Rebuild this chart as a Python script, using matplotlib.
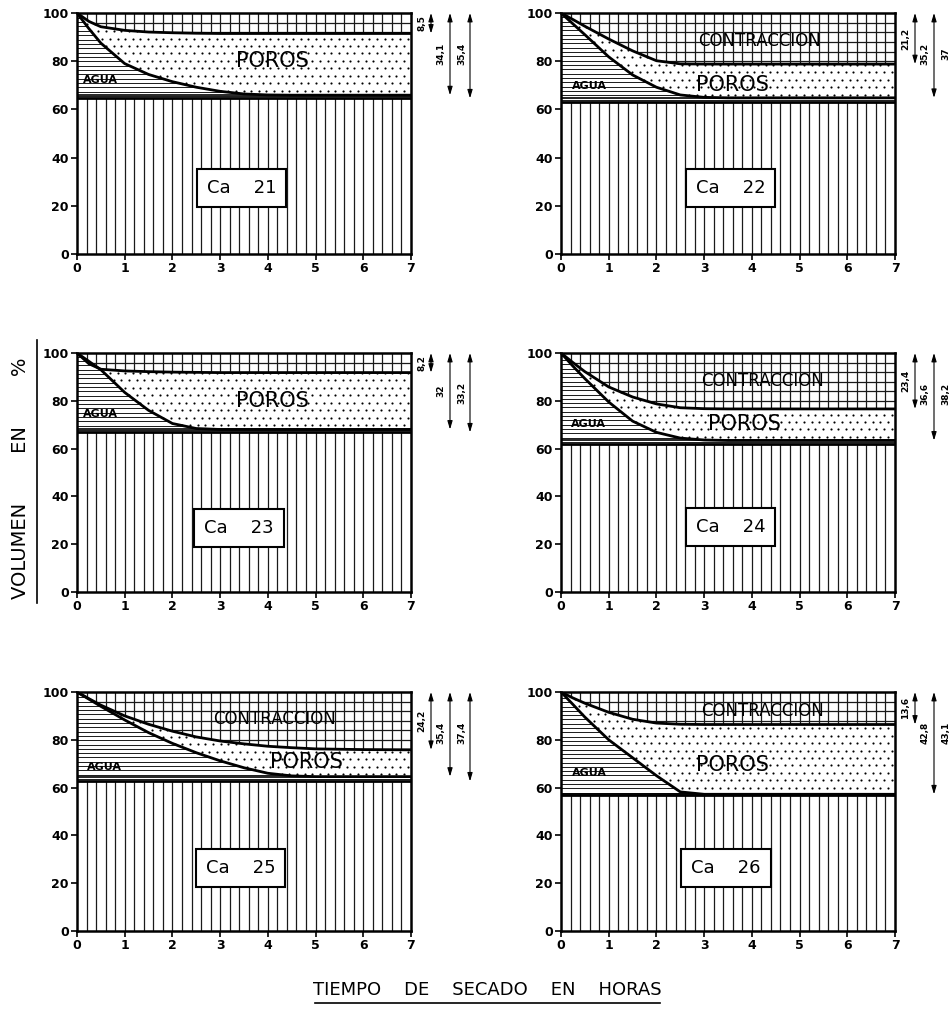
"""
Secado de piezas Ca 21 - Ca 26: volumen de agua, poros y contraccion
"""

import matplotlib
matplotlib.use('Agg')
import matplotlib.pyplot as plt
import numpy as np
from matplotlib.lines import Line2D
import matplotlib.transforms as mtransforms

plt.rcParams['font.family'] = ['DejaVu Sans']

# tiempo de secado (horas)
TIME = [0, 0.25, 0.5, 1, 1.5, 2, 2.5, 3, 3.5, 4, 4.5, 5, 6, 7]

SAMPLES = ['21', '22', '23', '24', '25', '26']

# curva superior (volumen total de la pieza, %)
upper_21 = [100, 96.5, 94.3, 92.8, 92.1, 91.8, 91.6, 91.5, 91.5, 91.5, 91.5, 91.5, 91.5, 91.5]
upper_22 = [100, 97.3, 94.5, 89.2, 84.3, 80.2, 78.9, 78.8, 78.8, 78.8, 78.8, 78.8, 78.8, 78.8]
upper_23 = [100, 95.5, 93.2, 92.5, 92.2, 92.0, 91.9, 91.8, 91.8, 91.8, 91.8, 91.8, 91.8, 91.8]
upper_24 = [100, 96.0, 92.2, 85.8, 81.6, 78.7, 77.1, 76.7, 76.6, 76.6, 76.6, 76.6, 76.6, 76.6]
upper_25 = [100, 97.2, 94.5, 90.0, 86.5, 83.6, 81.2, 79.5, 78.3, 77.3, 76.7, 76.2, 75.9, 75.8]
upper_26 = [100, 97.5, 95.3, 91.5, 88.6, 87.0, 86.5, 86.4, 86.4, 86.4, 86.4, 86.4, 86.4, 86.4]

# curva inferior (solido + agua, %)
lower_21 = [100, 93.5, 87.5, 79.0, 74.5, 71.5, 69.2, 67.5, 66.4, 66.0, 65.9, 65.9, 65.9, 65.9]
lower_22 = [100, 95.5, 91.0, 81.8, 74.3, 69.2, 66.0, 65.0, 64.8, 64.8, 64.8, 64.8, 64.8, 64.8]
lower_23 = [100, 96.5, 93.0, 83.5, 76.0, 70.5, 68.4, 68.0, 68.0, 68.0, 68.0, 68.0, 68.0, 68.0]
lower_24 = [100, 94.5, 89.3, 79.5, 71.5, 66.8, 64.4, 63.6, 63.4, 63.4, 63.4, 63.4, 63.4, 63.4]
lower_25 = [100, 97.0, 94.0, 88.3, 83.0, 78.5, 74.6, 71.2, 68.3, 66.0, 64.9, 64.6, 64.6, 64.6]
lower_26 = [100, 94.8, 89.5, 80.0, 72.5, 65.0, 58.2, 57.2, 57.2, 57.2, 57.2, 57.2, 57.2, 57.2]

# volumen de solido (%)
solid = [64.6, 63.0, 66.8, 61.8, 62.6, 56.9]

# cotas a la derecha de cada grafico (contraccion, contr.+poros, total)
dims = [
    ['8,5', '34,1', '35,4'],
    ['21,2', '35,2', '37'],
    ['8,2', '32', '33,2'],
    ['23,4', '36,6', '38,2'],
    ['24,2', '35,4', '37,4'],
    ['13,6', '42,8', '43,1'],
]

uppers = [upper_21, upper_22, upper_23, upper_24, upper_25, upper_26]
lowers = [lower_21, lower_22, lower_23, lower_24, lower_25, lower_26]

# posiciones de los textos (x, y) en unidades de datos
poros_pos = [(4.1, 80), (3.6, 70), (4.1, 80), (3.85, 70.3), (4.8, 70.7), (3.6, 69.5)]
agua_pos = [(0.5, 72), (0.6, 69.7), (0.5, 74.5), (0.57, 70.3), (0.58, 68.6), (0.6, 66)]
contr_pos = [None, (4.17, 88.4), None, (4.23, 88.3), (4.13, 88.7), (4.23, 92)]
box_pos = [(3.45, 27.4), (3.55, 27.4), (3.4, 26.8), (3.55, 27.2), (3.43, 26.4), (3.46, 26.4)]

FIG_W, FIG_H = 949, 1031
LEFT_X = [77, 561]
ROWS = [(13, 254), (353, 592), (692, 931)]
PANEL_W = 334


def clipped_region(ax, x, y1, y2):
    poly = ax.fill_between(x, y1, y2, facecolor='white', edgecolor='none', zorder=1)
    return poly.get_paths()[0]


def draw_panel(ax, idx):
    t = np.array(TIME, dtype=float)
    up = np.array(uppers[idx])
    lo = np.array(lowers[idx])
    s = solid[idx]
    pore_bottom = lo[-1]
    full = np.full_like(t, 100.0)
    zero = np.zeros_like(t)
    sol = np.full_like(t, s)

    vx = np.arange(0.2, 7.0, 0.2)

    # solido: lineas verticales
    p = clipped_region(ax, t, zero, sol)
    lc = ax.vlines(vx, 0, 100, colors='#1a1a1a', linewidth=0.9, zorder=2)
    lc.set_clip_path(p, ax.transData)

    # agua: lineas horizontales
    p = clipped_region(ax, t, sol, lo)
    lc = ax.hlines(np.arange(s + 1.0, 100, 1.8), 0, 7, colors='#1a1a1a', linewidth=0.7, zorder=2)
    lc.set_clip_path(p, ax.transData)

    # poros: puntos
    p = clipped_region(ax, t, lo, up)
    rows = np.arange(s, 100, 3.1)
    px, py = [], []
    for k, yy in enumerate(rows):
        xs = np.arange(0.05 + (0.08 if k % 2 else 0), 7, 0.16)
        px.extend(xs)
        py.extend([yy] * len(xs))
    sc = ax.scatter(px, py, s=2.4, color='black', linewidths=0, zorder=2)
    sc.set_clip_path(p, ax.transData)

    # contraccion: cuadricula
    p = clipped_region(ax, t, up, full)
    lc = ax.vlines(vx, 0, 100, colors='#1a1a1a', linewidth=0.9, zorder=2)
    lc.set_clip_path(p, ax.transData)
    lc = ax.hlines(np.arange(96, 50, -4), 0, 7, colors='#1a1a1a', linewidth=0.9, zorder=2)
    lc.set_clip_path(p, ax.transData)

    # curvas y limites
    ax.plot(t, up, color='black', linewidth=2, zorder=4)
    ax.plot(t, lo, color='black', linewidth=2, zorder=4)
    ax.axhline(s, color='black', linewidth=2, zorder=4)
    ax.axhline(pore_bottom, color='black', linewidth=1.2, zorder=4)

    # textos
    ax.text(*poros_pos[idx], 'POROS', fontsize=15, ha='center', va='center', zorder=5)
    ax.text(*agua_pos[idx], 'AGUA', fontsize=8, fontweight='bold', ha='center', va='center', zorder=5)
    if contr_pos[idx] is not None:
        ax.text(*contr_pos[idx], 'CONTRACCION', fontsize=12, ha='center', va='center', zorder=5)
    ax.text(*box_pos[idx], f'Ca    {SAMPLES[idx]}', fontsize=13, ha='center', va='center', zorder=6,
            bbox=dict(boxstyle='square,pad=0.55', facecolor='white', edgecolor='black', linewidth=1.5))

    # cotas
    trans = mtransforms.blended_transform_factory(ax.transAxes, ax.transData)
    text_off = [11, 30, 51]
    arrow_off = [20, 39, 59]
    for k, label in enumerate(dims[idx]):
        v = float(label.replace(',', '.'))
        xa = 1 + arrow_off[k] / PANEL_W
        xt = 1 + text_off[k] / PANEL_W
        ax.annotate('', xy=(xa, 100 - v), xytext=(xa, 100), xycoords=trans, textcoords=trans,
                    arrowprops=dict(arrowstyle='<|-|>,head_length=0.5,head_width=0.15',
                                    color='black', linewidth=0.8, shrinkA=0, shrinkB=0),
                    annotation_clip=False)
        yt = 100 - min(v / 2, 17)
        ax.text(xt, yt, label, transform=trans, rotation=90, fontsize=6.5, fontweight='bold',
                ha='center', va='center', clip_on=False)

    ax.set_xlim(0, 7)
    ax.set_ylim(0, 100)
    ax.set_xticks(range(8))
    ax.set_yticks(range(0, 101, 20))
    ax.tick_params(labelsize=9, length=4, width=1.2, pad=2)
    for lab in ax.get_xticklabels() + ax.get_yticklabels():
        lab.set_fontweight('bold')
    for sp in ax.spines.values():
        sp.set_linewidth(1.8)
        sp.set_zorder(6)


fig = plt.figure(figsize=(FIG_W / 100, FIG_H / 100), dpi=100)

for i in range(6):
    r, c = divmod(i, 2)
    top, bot = ROWS[r]
    rect = [LEFT_X[c] / FIG_W, 1 - bot / FIG_H, PANEL_W / FIG_W, (bot - top) / FIG_H]
    ax = fig.add_axes(rect)
    draw_panel(ax, i)

# titulos de ejes
fig.text(0.513, 0.040, 'TIEMPO    DE    SECADO    EN    HORAS', fontsize=13, ha='center', va='center')
fig.add_artist(Line2D([0.332, 0.695], [0.027, 0.027], color='black', linewidth=1.2))
fig.text(0.022, 0.536, 'VOLUMEN        EN        %', fontsize=14, rotation=90, ha='center', va='center')
fig.add_artist(Line2D([0.039, 0.039], [0.415, 0.670], color='black', linewidth=1.2))

fig.savefig('out.png', dpi=100)
